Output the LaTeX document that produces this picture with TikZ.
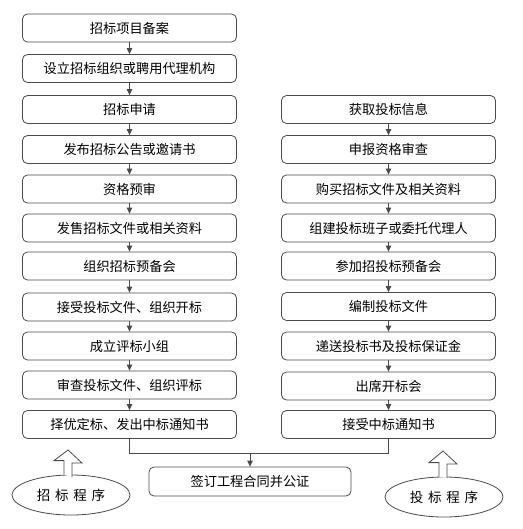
\documentclass[tikz,border=0pt]{standalone}
\usepackage{fontspec}
\setmainfont{Noto Sans CJK SC}
\usetikzlibrary{arrows.meta,shapes.geometric}
\definecolor{edge}{HTML}{4A4A4A}
\tikzset{
  stepbox/.style={draw=edge, line width=0.8pt, rounded corners=5pt, fill=white,
    minimum width=214pt, minimum height=28pt, inner sep=0pt, font=\fontsize{13.2}{15}\selectfont},
  flow/.style={draw=edge, line width=0.8pt, -{Triangle[width=5.5pt,length=6pt]}},
  tag/.style={draw=edge, line width=0.8pt, ellipse, minimum width=118pt, minimum height=40pt, inner sep=0pt,
    font=\fontsize{13.5}{15}\selectfont},
  hollow/.style={draw=edge, line width=0.8pt, fill=white}
}
\begin{document}
\begin{tikzpicture}[x=1pt,y=-1pt]
\useasboundingbox (0,0) rectangle (522,529);
% left column
\node[stepbox] (l1) at (129.5,28) {招标项目备案};
\node[stepbox] (l2) at (129.5,68.5) {设立招标组织或聘用代理机构};
\node[stepbox] (l3) at (129.5,109.5) {招标申请};
\node[stepbox] (l4) at (129.5,149.5) {发布招标公告或邀请书};
\node[stepbox] (l5) at (129.5,189) {资格预审};
\node[stepbox] (l6) at (129.5,228) {发售招标文件或相关资料};
\node[stepbox] (l7) at (129.5,266) {组织招标预备会};
\node[stepbox] (l8) at (129.5,307) {接受投标文件、组织开标};
\node[stepbox] (l9) at (129.5,346) {成立评标小组};
\node[stepbox] (l10) at (129.5,385) {审查投标文件、组织评标};
\node[stepbox] (l11) at (129.5,424.5) {择优定标、发出中标通知书};
% right column
\node[stepbox] (r1) at (388.5,109.5) {获取投标信息};
\node[stepbox] (r2) at (388.5,149.5) {申报资格审查};
\node[stepbox] (r3) at (388.5,189) {购买招标文件及相关资料};
\node[stepbox] (r4) at (388.5,228) {组建投标班子或委托代理人};
\node[stepbox] (r5) at (388.5,266) {参加招投标预备会};
\node[stepbox] (r6) at (388.5,306.5) {编制投标文件};
\node[stepbox] (r7) at (388.5,346) {递送投标书及投标保证金};
\node[stepbox] (r8) at (388.5,386) {出席开标会};
\node[stepbox] (r9) at (388.5,424.5) {接受中标通知书};
% bottom
\node[stepbox, minimum width=202pt, minimum height=29pt] (c) at (250,481.5) {签订工程合同并公证};
% arrows
\foreach \a/\b in {l1/l2,l2/l3,l3/l4,l4/l5,l5/l6,l6/l7,l7/l8,l8/l9,l9/l10,l10/l11,
                   r1/r2,r2/r3,r3/r4,r4/r5,r5/r6,r6/r7,r7/r8,r8/r9}
  \draw[flow] (\a.south) -- (\b.north);
\coordinate (jl) at (l11.south |- 0,453);
\coordinate (jr) at (r9.south |- 0,453);
\coordinate (jc) at (c.north |- 0,453);
\draw[draw=edge, line width=0.8pt] (l11.south) -- (jl) -- (jr) -- (r9.south);
\draw[flow] (jc) -- (c.north);
% ellipses
\node[tag] (el) at (71,495) {招\hspace{0.35em}标\hspace{0.35em}程\hspace{0.35em}序};
\node[tag] (er) at (444,497) {投\hspace{0.35em}标\hspace{0.35em}程\hspace{0.35em}序};
% hollow up arrows
\coordinate (tl) at (68,450);
\coordinate (tr) at (443,451);
\draw[hollow] (el.north -| tl) ++(-4,0) -- ++(0,-14) -- ++(-10,0) -- (tl) -- ++(14,13) -- ++(-10,0) -- ++(0,14);
\draw[hollow] (er.north -| tr) ++(-4,0) -- ++(0,-14) -- ++(-10,0) -- (tr) -- ++(14,13) -- ++(-10,0) -- ++(0,14);
\end{tikzpicture}
\end{document}
